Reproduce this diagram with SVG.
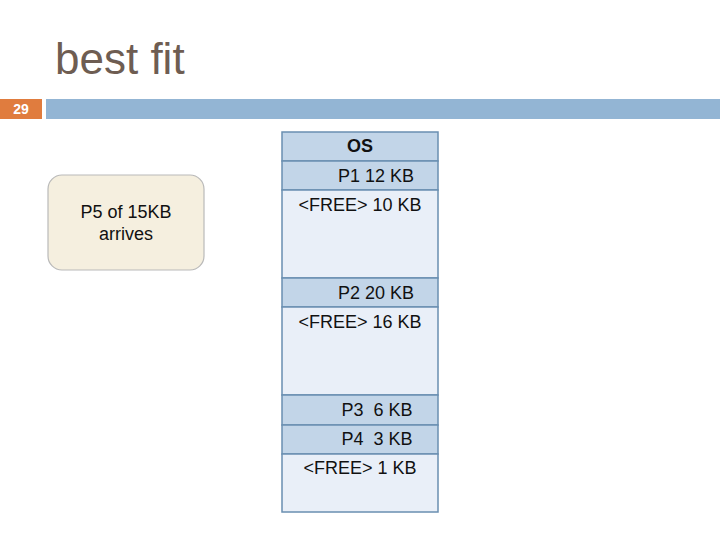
<svg xmlns="http://www.w3.org/2000/svg" width="720" height="540" viewBox="0 0 720 540">
<style>
text{font-family:"Liberation Sans",Arial,sans-serif;font-size:18px;fill:#111}
.hdr{fill:#c2d5e8;stroke:#6a8fb1;stroke-width:1.5}
.free{fill:#e9eff8;stroke:#6a8fb1;stroke-width:1.5}
</style>
<rect width="720" height="540" fill="#fff"/>
<text x="55" y="74" style="font-size:44px;fill:#6e5d52">best fit</text>
<rect x="0" y="99" width="42" height="20" fill="#e07c3e"/>
<text x="21" y="114" text-anchor="middle" style="font-size:14px;font-weight:bold;fill:#fff">29</text>
<rect x="46" y="99" width="674" height="20" fill="#93b5d4"/>
<g id="request">
<rect x="48" y="175" width="156" height="95" rx="14" fill="#f5efdf" stroke="#b9b9b9" stroke-width="1.2"/>
<text x="126" y="218" text-anchor="middle">P5 of 15KB</text>
<text x="126" y="240" text-anchor="middle">arrives</text>
</g>
<g id="memory">
<g id="os"><rect class="hdr" x="282" y="132" width="156" height="29"/><text x="360" y="152" text-anchor="middle" style="font-weight:bold">OS</text></g>
<g id="p1"><rect class="hdr" x="282" y="161" width="156" height="29"/><text x="376" y="182" text-anchor="middle">P1 12 KB</text></g>
<g id="free10"><rect class="free" x="282" y="190" width="156" height="88"/><text x="360" y="211" text-anchor="middle">&lt;FREE&gt; 10 KB</text></g>
<g id="p2"><rect class="hdr" x="282" y="278" width="156" height="29"/><text x="376" y="299" text-anchor="middle">P2 20 KB</text></g>
<g id="free16"><rect class="free" x="282" y="307" width="156" height="88"/><text x="360" y="328" text-anchor="middle">&lt;FREE&gt; 16 KB</text></g>
<g id="p3"><rect class="hdr" x="282" y="395" width="156" height="30"/><text x="377" y="416" text-anchor="middle" xml:space="preserve">P3  6 KB</text></g>
<g id="p4"><rect class="hdr" x="282" y="425" width="156" height="29"/><text x="377" y="445" text-anchor="middle" xml:space="preserve">P4  3 KB</text></g>
<g id="free1"><rect class="free" x="282" y="454" width="156" height="58"/><text x="360" y="474" text-anchor="middle">&lt;FREE&gt; 1 KB</text></g>
</g>
<g id="connectors"></g>
</svg>
